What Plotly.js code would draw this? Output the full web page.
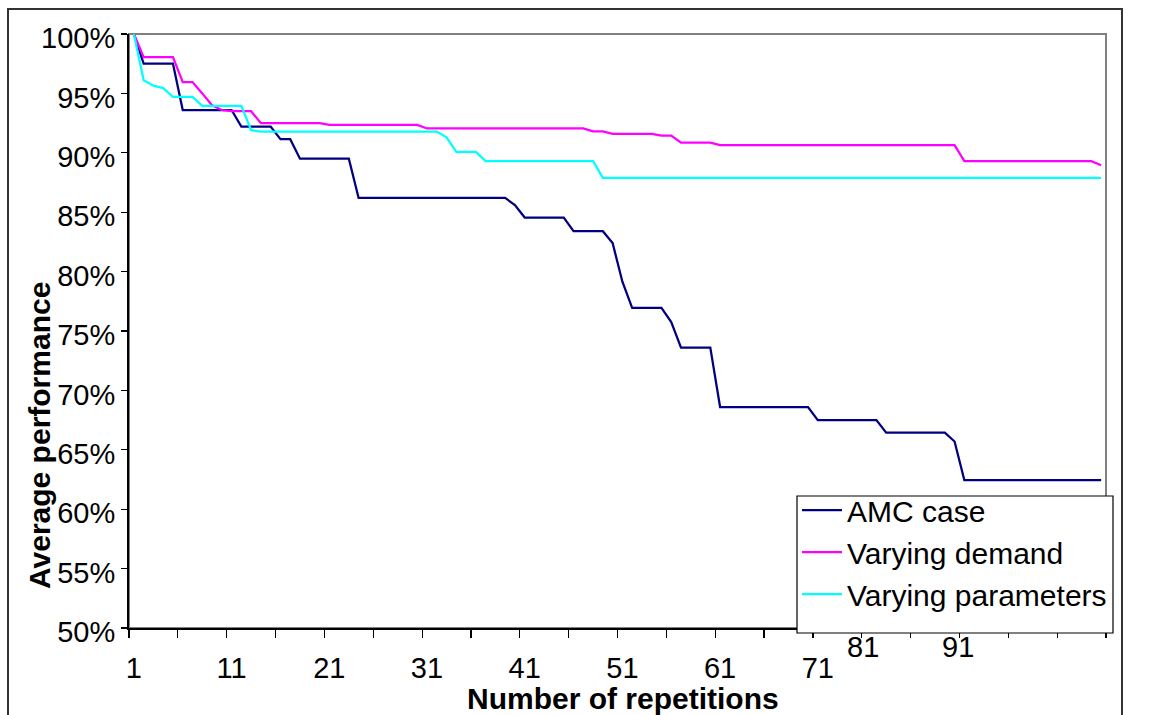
<!DOCTYPE html>
<html>
<head>
<meta charset="utf-8">
<script src="https://cdn.plot.ly/plotly-3.0.1.min.js"></script>
<style>html,body{margin:0;padding:0;background:#fff;}#chart{width:1154px;height:715px;}</style>
</head>
<body>
<div id="chart"></div>
<script>
// ---- data ----
const repetitions = Array.from({length: 100}, (_, i) => i + 1);

const amcCase = [
  100, 97.5, 97.5, 97.5, 97.5, 93.6, 93.6, 93.6, 93.6, 93.6,
  93.6, 92.2, 92.2, 92.2, 92.2, 91.15, 91.15, 89.5, 89.5, 89.5,
  89.5, 89.5, 89.5, 86.2, 86.2, 86.2, 86.2, 86.2, 86.2, 86.2,
  86.2, 86.2, 86.2, 86.2, 86.2, 86.2, 86.2, 86.2, 86.2, 85.6,
  84.55, 84.55, 84.55, 84.55, 84.55, 83.4, 83.4, 83.4, 83.4, 82.4,
  79.15, 76.95, 76.95, 76.95, 76.95, 75.75, 73.6, 73.6, 73.6, 73.6,
  68.6, 68.6, 68.6, 68.6, 68.6, 68.6, 68.6, 68.6, 68.6, 68.6,
  67.5, 67.5, 67.5, 67.5, 67.5, 67.5, 67.5, 66.45, 66.45, 66.45,
  66.45, 66.45, 66.45, 66.45, 65.7, 62.45, 62.45, 62.45, 62.45, 62.45,
  62.45, 62.45, 62.45, 62.45, 62.45, 62.45, 62.45, 62.45, 62.45, 62.45
];

const varyingDemand = [
  100, 98.05, 98.05, 98.05, 98.05, 95.95, 95.95, 95.0, 94.0, 93.6,
  93.5, 93.5, 93.5, 92.5, 92.5, 92.5, 92.5, 92.5, 92.5, 92.5,
  92.35, 92.35, 92.35, 92.35, 92.35, 92.35, 92.35, 92.35, 92.35, 92.35,
  92.05, 92.05, 92.05, 92.05, 92.05, 92.05, 92.05, 92.05, 92.05, 92.05,
  92.05, 92.05, 92.05, 92.05, 92.05, 92.05, 92.05, 91.8, 91.8, 91.6,
  91.6, 91.6, 91.6, 91.6, 91.45, 91.45, 90.85, 90.85, 90.85, 90.85,
  90.65, 90.65, 90.65, 90.65, 90.65, 90.65, 90.65, 90.65, 90.65, 90.65,
  90.65, 90.65, 90.65, 90.65, 90.65, 90.65, 90.65, 90.65, 90.65, 90.65,
  90.65, 90.65, 90.65, 90.65, 90.65, 89.3, 89.3, 89.3, 89.3, 89.3,
  89.3, 89.3, 89.3, 89.3, 89.3, 89.3, 89.3, 89.3, 89.3, 88.95
];

const varyingParameters = [
  100, 96.1, 95.65, 95.45, 94.7, 94.7, 94.7, 93.95, 93.95, 93.95,
  93.95, 93.95, 91.9, 91.78, 91.78, 91.78, 91.78, 91.78, 91.78, 91.78,
  91.78, 91.78, 91.78, 91.78, 91.78, 91.78, 91.78, 91.78, 91.78, 91.78,
  91.78, 91.78, 91.3, 90.07, 90.07, 90.07, 89.3, 89.3, 89.3, 89.3,
  89.3, 89.3, 89.3, 89.3, 89.3, 89.3, 89.3, 89.3, 87.9, 87.9,
  87.9, 87.9, 87.9, 87.9, 87.9, 87.9, 87.9, 87.9, 87.9, 87.9,
  87.9, 87.9, 87.9, 87.9, 87.9, 87.9, 87.9, 87.9, 87.9, 87.9,
  87.9, 87.9, 87.9, 87.9, 87.9, 87.9, 87.9, 87.9, 87.9, 87.9,
  87.9, 87.9, 87.9, 87.9, 87.9, 87.9, 87.9, 87.9, 87.9, 87.9,
  87.9, 87.9, 87.9, 87.9, 87.9, 87.9, 87.9, 87.9, 87.9, 87.9
];

const seriesNames = ["AMC case", "Varying demand", "Varying parameters"];
const xTickValues = [1, 11, 21, 31, 41, 51, 61, 71];
const xTickLabels = ["1", "11", "21", "31", "41", "51", "61", "71"];
const xShiftedLabels = ["81", "91"];
const yTickValues = [50, 55, 60, 65, 70, 75, 80, 85, 90, 95, 100];
const yTickLabels = ["50%", "55%", "60%", "65%", "70%", "75%", "80%", "85%", "90%", "95%", "100%"];
const xTitle = "Number of repetitions";
const yTitle = "Average performance";

// ---- layout helpers (pixel geometry of the frame) ----
const W = 1154, H = 715;
const M = {l: 129, r: 48, t: 34, b: 87};
const PW = W - M.l - M.r, PH = H - M.t - M.b;
const px = x => (x - M.l) / PW;
const py = y => (H - M.b - y) / PH;

const FONT = '"Liberation Sans", Arial, sans-serif';
const colors = ["#000080", "#FF00FF", "#00FFFF"];
const allSeries = [amcCase, varyingDemand, varyingParameters];

const traces = allSeries.map((vals, k) => ({
  type: "scatter",
  mode: "lines",
  x: repetitions,
  y: vals,
  name: seriesNames[k],
  line: {color: colors[k], width: 2.25},
  hoverinfo: "x+y+name"
}));

const layout = {
  width: W, height: H,
  margin: M,
  paper_bgcolor: "#fff",
  plot_bgcolor: "#fff",
  font: {family: FONT, size: 29, color: "#000"},
  showlegend: true,
  legend: {
    x: px(797), y: py(484), xanchor: "left", yanchor: "top",
    bgcolor: "rgba(0,0,0,0)", borderwidth: 0,
    font: {family: FONT, size: 30, color: "#000"},
    traceorder: "normal", itemwidth: 40, tracegroupgap: 0
  },
  xaxis: {
    range: [0.5, 100.5],
    showline: true, linecolor: "#000", linewidth: 1.5,
    showgrid: false, zeroline: false,
    tickmode: "array", tickvals: xTickValues, ticktext: xTickLabels,
    ticks: "", ticklabelstandoff: 14,
    tickfont: {family: FONT, size: 29, color: "#000"},
    minor: {tick0: 0.5, dtick: 5, ticks: "outside", ticklen: 8, tickwidth: 1.2, tickcolor: "#000", showgrid: false}
  },
  yaxis: {
    range: [50, 100],
    showline: true, linecolor: "#000", linewidth: 2,
    showgrid: false, zeroline: false,
    tickmode: "array", tickvals: yTickValues, ticktext: yTickLabels,
    ticks: "outside", ticklen: 6, tickwidth: 1.2, tickcolor: "#000",
    ticklabelshift: 4, ticklabelstandoff: 0,
    tickfont: {family: FONT, size: 29, color: "#000"}
  },
  shapes: [
    // outer chart border
    {type: "rect", xref: "paper", yref: "paper", x0: px(8), x1: px(1122), y0: py(740), y1: py(9),
     line: {color: "#333", width: 2}, fillcolor: "rgba(0,0,0,0)", layer: "below"},
    // plot-area border (gray)
    {type: "rect", xref: "paper", yref: "paper", x0: 0, x1: 1, y0: 0, y1: 1,
     line: {color: "#808080", width: 2}, fillcolor: "rgba(0,0,0,0)", layer: "below"},
    // legend box
    {type: "rect", xref: "paper", yref: "paper", x0: px(797), x1: px(1113), y0: py(633), y1: py(496),
     line: {color: "#000", width: 1.2}, fillcolor: "#fff", layer: "above"}
  ],
  annotations: [
    {xref: "x", yref: "paper", x: 75.6, y: py(647), text: xShiftedLabels[0], showarrow: false,
     xanchor: "center", yanchor: "middle", font: {family: FONT, size: 29, color: "#000"}},
    {xref: "x", yref: "paper", x: 85.4, y: py(647), text: xShiftedLabels[1], showarrow: false,
     xanchor: "center", yanchor: "middle", font: {family: FONT, size: 29, color: "#000"}},
    {xref: "paper", yref: "paper", x: px(623), y: py(698), text: "<b>" + xTitle + "</b>", showarrow: false,
     xanchor: "center", yanchor: "middle", font: {family: FONT, size: 30, color: "#000"}},
    {xref: "paper", yref: "paper", x: px(40), y: py(436), text: "<b>" + yTitle + "</b>", showarrow: false,
     textangle: -90, xanchor: "center", yanchor: "middle", font: {family: FONT, size: 30, color: "#000"}}
  ]
};

Plotly.newPlot("chart", traces, layout, {displayModeBar: false, staticPlot: true});
</script>
</body>
</html>
